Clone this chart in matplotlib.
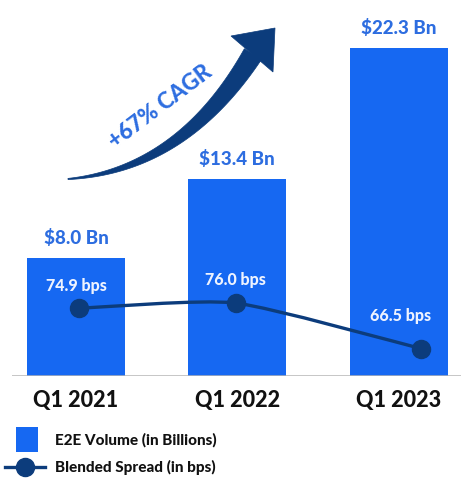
import matplotlib
matplotlib.use("Agg")
import matplotlib.pyplot as plt
from matplotlib.path import Path
from matplotlib.patches import PathPatch, Polygon, Rectangle
from matplotlib.lines import Line2D
import numpy as np

# Data
quarters = ["Q1 2021", "Q1 2022", "Q1 2023"]
volume_bn = [8.0, 13.4, 22.3]
spread_bps = [74.9, 76.0, 66.5]
volume_labels = ["$8.0 Bn", "$13.4 Bn", "$22.3 Bn"]
spread_labels = ["74.9 bps", "76.0 bps", "66.5 bps"]
cagr_text = "+67% CAGR"
legend_labels = ["E2E Volume (in Billions)", "Blended Spread (in bps)"]

# Styling
BAR = "#1668f2"
NAVY = "#0c3c7c"
LABEL_BLUE = "#2d6de0"
FONT = ["Lato", "DejaVu Sans"]
WEIGHT = 900

W, H = 461, 484
fig = plt.figure(figsize=(W / 100, H / 100), dpi=100)
fig.patch.set_facecolor("white")


def fx(x):
    return x / W


def fy(y):
    return 1 - y / H


# Main axes: bars
base_px = 376
ax = fig.add_axes([fx(12), fy(base_px), fx(W) - fx(12), fy(0) - fy(base_px)])
px_per_cat = 161.25
x0_px = 76.0
ax.set_xlim(-(x0_px - 12) / px_per_cat, 2 + (W - (x0_px + 2 * px_per_cat)) / px_per_cat)
px_per_bn = 14.7
ax.set_ylim(0, base_px / px_per_bn)
ax.axis("off")

xpos = np.arange(len(quarters))
bars = ax.bar(xpos, volume_bn, width=98 / px_per_cat, color=BAR, zorder=2)

# Baseline
ax.axhline(0, color="#b5b5b5", lw=1.8, zorder=3, xmin=0, xmax=1)

for x, v, t in zip(xpos, volume_bn, volume_labels):
    ax.annotate(t, (x, v), xytext=(0, 8), textcoords="offset points",
                ha="center", va="bottom", fontsize=13.5, fontweight=WEIGHT,
                color=LABEL_BLUE, family=FONT)

for x, t in zip(xpos, quarters):
    ax.annotate(t, (x, 0), xytext=(0, -10), textcoords="offset points",
                ha="center", va="top", fontsize=15.5, fontweight=WEIGHT,
                color="#111111", family=FONT)

# Secondary axes: spread line
ax2 = ax.twinx()
ax2.set_xlim(ax.get_xlim())
px_per_bps = 4.8
anchor_v, anchor_px = 76.0, 303
ax2.set_ylim(anchor_v - (base_px - anchor_px) / px_per_bps, anchor_v + anchor_px / px_per_bps)
ax2.axis("off")

spread_offset = [0.02, -0.01, 0.14]
sx = xpos + np.array(spread_offset)
pts = np.column_stack([sx, spread_bps])

# Smoothed line through the points (cardinal spline as cubic Beziers)
tension = 10.0
verts = [pts[0]]
codes = [Path.MOVETO]
n = len(pts)
for i in range(n - 1):
    p_prev = pts[max(i - 1, 0)]
    p_next2 = pts[min(i + 2, n - 1)]
    c1 = pts[i] + (pts[i + 1] - p_prev) / tension
    c2 = pts[i + 1] - (p_next2 - pts[i]) / tension
    verts += [c1, c2, pts[i + 1]]
    codes += [Path.CURVE4] * 3
ax2.add_patch(PathPatch(Path(verts, codes), facecolor="none", edgecolor=NAVY,
                        lw=2.4, zorder=4, capstyle="round"))
ax2.plot(sx, spread_bps, "o", color=NAVY, markersize=13, zorder=5)

label_dy = [10.5, 10.5, 17.5]
label_dx = [-2, 0, -15]
for x, v, t, dx, dy in zip(sx, spread_bps, spread_labels, label_dx, label_dy):
    ax2.annotate(t, (x, v), xytext=(dx, dy), textcoords="offset points",
                 ha="center", va="bottom", fontsize=11.5, fontweight=WEIGHT,
                 color="#eef3ff", family=FONT, zorder=6)

# Growth arrow (tapered curved shaft + head), in figure pixels
P0 = np.array([68.0, 179.0])
P1 = np.array([182.0, 170.0])
P2 = np.array([253.0, 54.0])
t = np.linspace(0, 1, 80)
curve = ((1 - t) ** 2)[:, None] * P0 + (2 * (1 - t) * t)[:, None] * P1 + (t ** 2)[:, None] * P2
deriv = (2 * (1 - t))[:, None] * (P1 - P0) + (2 * t)[:, None] * (P2 - P1)
tang = deriv / np.linalg.norm(deriv, axis=1)[:, None]
normal = np.column_stack([-tang[:, 1], tang[:, 0]])
width = 0.6 + 9.5 * t ** 1.1
upper = curve + normal * width[:, None]
lower = curve - normal * width[:, None]
shaft = np.vstack([upper, lower[::-1]])
fig.patches.append(Polygon([(fx(x), fy(y)) for x, y in shaft], closed=True,
                           transform=fig.transFigure, facecolor=NAVY, edgecolor=NAVY, lw=0.5))
head = [(231, 36), (275, 28), (273, 72)]
fig.patches.append(Polygon([(fx(x), fy(y)) for x, y in head], closed=True,
                           transform=fig.transFigure, facecolor=NAVY, edgecolor=NAVY, lw=0.5))

fig.text(fx(160), fy(107), cagr_text, rotation=37, ha="center", va="center",
         fontsize=16, fontweight=WEIGHT, color=LABEL_BLUE, family=FONT,
         rotation_mode="anchor")

# Legend
fig.patches.append(Rectangle((fx(16), fy(452)), fx(22), fy(427) - fy(452),
                             transform=fig.transFigure, facecolor=BAR, edgecolor="none"))
fig.lines.append(Line2D([fx(5), fx(45)], [fy(467), fy(467)], transform=fig.transFigure,
                        color=NAVY, lw=2.4))
fig.lines.append(Line2D([fx(25)], [fy(467)], transform=fig.transFigure, marker="o",
                        color=NAVY, markersize=13))
fig.text(fx(55), fy(440), legend_labels[0], ha="left", va="center", fontsize=11,
         fontweight=WEIGHT, color="#111111", family=FONT)
fig.text(fx(55), fy(467), legend_labels[1], ha="left", va="center", fontsize=11,
         fontweight=WEIGHT, color="#111111", family=FONT)

fig.savefig("out.png", dpi=100)
